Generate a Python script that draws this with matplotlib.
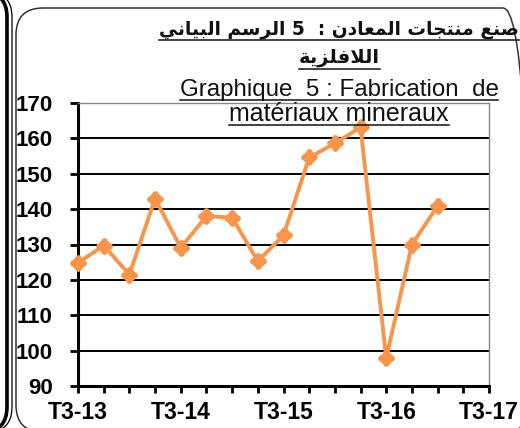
import numpy as np
import matplotlib.pyplot as plt
from matplotlib.patches import FancyBboxPatch
from matplotlib.lines import Line2D

# quarterly index, T3-13 .. T1-17
quarters = ['T3-13', 'T4-13', 'T1-14', 'T2-14', 'T3-14', 'T4-14', 'T1-15', 'T2-15',
            'T3-15', 'T4-15', 'T1-16', 'T2-16', 'T3-16', 'T4-16', 'T1-17']
values = [124.8, 129.7, 121.5, 143.0, 129.1, 138.0, 137.6, 125.3,
          132.6, 154.6, 158.6, 163.1, 97.9, 130.0, 140.9]
tick_labels = ['T3-13', 'T3-14', 'T3-15', 'T3-16', 'T3-17']
y_ticks = [90, 100, 110, 120, 130, 140, 150, 160, 170]

title_ar_1 = ['البياني', 'الرسم', '5', ':', 'المعادن', 'منتجات', 'صنع']  # visual order, left to right
title_ar_2 = 'اللافلزية'
title_fr_1 = 'Graphique  5 : Fabrication  de'
title_fr_2 = 'matériaux mineraux'

ORANGE = '#F7964A'

# minimal arabic shaping (presentation forms), matplotlib does not shape arabic
FORMS = {
    'ا': ('\uFE8D', '\uFE8E', None, None),
    'ب': ('\uFE8F', '\uFE90', '\uFE91', '\uFE92'),
    'ة': ('\uFE93', '\uFE94', None, None),
    'ت': ('\uFE95', '\uFE96', '\uFE97', '\uFE98'),
    'ج': ('\uFE9D', '\uFE9E', '\uFE9F', '\uFEA0'),
    'د': ('\uFEA9', '\uFEAA', None, None),
    'ر': ('\uFEAD', '\uFEAE', None, None),
    'ز': ('\uFEAF', '\uFEB0', None, None),
    'س': ('\uFEB1', '\uFEB2', '\uFEB3', '\uFEB4'),
    'ص': ('\uFEB9', '\uFEBA', '\uFEBB', '\uFEBC'),
    'ع': ('\uFEC9', '\uFECA', '\uFECB', '\uFECC'),
    'ف': ('\uFED1', '\uFED2', '\uFED3', '\uFED4'),
    'ل': ('\uFEDD', '\uFEDE', '\uFEDF', '\uFEE0'),
    'م': ('\uFEE1', '\uFEE2', '\uFEE3', '\uFEE4'),
    'ن': ('\uFEE5', '\uFEE6', '\uFEE7', '\uFEE8'),
    'ي': ('\uFEF1', '\uFEF2', '\uFEF3', '\uFEF4'),
    'لا': ('\uFEFB', '\uFEFC', None, None),
}


def shape(word):
    if not any(c in FORMS for c in word):
        return word
    tokens = []
    i = 0
    while i < len(word):
        if word[i:i + 2] == 'لا':
            tokens.append('لا')
            i += 2
        else:
            tokens.append(word[i])
            i += 1
    out = []
    for k, t in enumerate(tokens):
        prev_joins = k > 0 and FORMS[tokens[k - 1]][2] is not None
        next_joins = k < len(tokens) - 1 and FORMS[t][2] is not None
        iso, fin, ini, med = FORMS[t]
        if prev_joins and next_joins:
            out.append(med)
        elif prev_joins:
            out.append(fin)
        elif next_joins:
            out.append(ini)
        else:
            out.append(iso)
    return ''.join(reversed(out))


fig = plt.figure(figsize=(5.2, 4.28), dpi=100)
ax = fig.add_axes([78 / 520, 1 - 386 / 428, (489 - 78) / 520, (386 - 103) / 428])

x = np.arange(len(values))
ax.plot(x, values, color=ORANGE, lw=2.8, zorder=3, clip_on=False)
ax.plot(x, values, ls='none', marker='D', ms=8, color=ORANGE, zorder=4, clip_on=False)
ax.plot(x, values, ls='none', marker='P', ms=10, color=ORANGE, zorder=4, clip_on=False)

ax.set_xlim(0, 16)
ax.set_ylim(90, 170)
ax.set_yticks(y_ticks)
ax.set_xticks(range(0, 17, 4))
ax.set_xticklabels(tick_labels)
ax.set_xticks(range(0, 17), minor=True)
for lab in ax.get_xticklabels() + ax.get_yticklabels():
    lab.set_fontfamily('Liberation Sans')
    lab.set_fontweight('bold')
for lab in ax.get_yticklabels():
    lab.set_fontsize(16)
for lab in ax.get_xticklabels():
    lab.set_fontsize(16.5)

ax.tick_params(axis='y', length=6, width=2, pad=12, color='black')
ax.tick_params(axis='x', which='both', length=5, width=2, pad=6, color='black')
ax.yaxis.grid(True, color='black', lw=1.4)
ax.set_axisbelow(True)
for s in ['left', 'bottom']:
    ax.spines[s].set_linewidth(2.2)
for s in ['top', 'right']:
    ax.spines[s].set_color('#888888')
    ax.spines[s].set_linewidth(1)

# frame around the chart and edge of the neighbouring frame
fig.patches.append(FancyBboxPatch((0.16, -0.04), 5.14, 4.24,
                                  boxstyle='round,pad=0,rounding_size=0.27',
                                  transform=fig.dpi_scale_trans, fill=False,
                                  ec='#333333', lw=1.1))
fig.patches.append(FancyBboxPatch((-3.0, -0.04), 3.07, 4.40,
                                  boxstyle='round,pad=0,rounding_size=0.25',
                                  transform=fig.dpi_scale_trans, fill=False,
                                  ec='black', lw=2.6))
fig.patches.append(FancyBboxPatch((-3.0, -0.04), 3.12, 4.40,
                                  boxstyle='round,pad=0,rounding_size=0.25',
                                  transform=fig.dpi_scale_trans, fill=False,
                                  ec='black', lw=0.9))

# titles, baselines / underlines in pixels from top
titles = [
    (' '.join(shape(w) for w in title_ar_1).replace('5 :', '5  :'), 35, 40, 'DejaVu Sans', 13.4, 'bold'),
    (shape(title_ar_2), 63, 69, 'DejaVu Sans', 14, 'bold'),
    (title_fr_1, 96, 100, 'Liberation Sans', 17.4, 'normal'),
    (title_fr_2, 121, 125, 'Liberation Sans', 18, 'normal'),
]
texts = []
for s, base, under, fam, fs, fw in titles:
    t = fig.text(339 / 520, 1 - base / 428, s, ha='center', va='baseline',
                 family=fam, fontsize=fs, fontweight=fw, color='#111111')
    texts.append((t, under))

fig.canvas.draw()
r = fig.canvas.get_renderer()
for t, under in texts:
    bb = t.get_window_extent(r)
    fig.lines.append(Line2D([bb.x0 / 520, bb.x1 / 520], [1 - under / 428] * 2,
                            transform=fig.transFigure, color='#111111', lw=1.1))

fig.savefig('out.png', dpi=100)
